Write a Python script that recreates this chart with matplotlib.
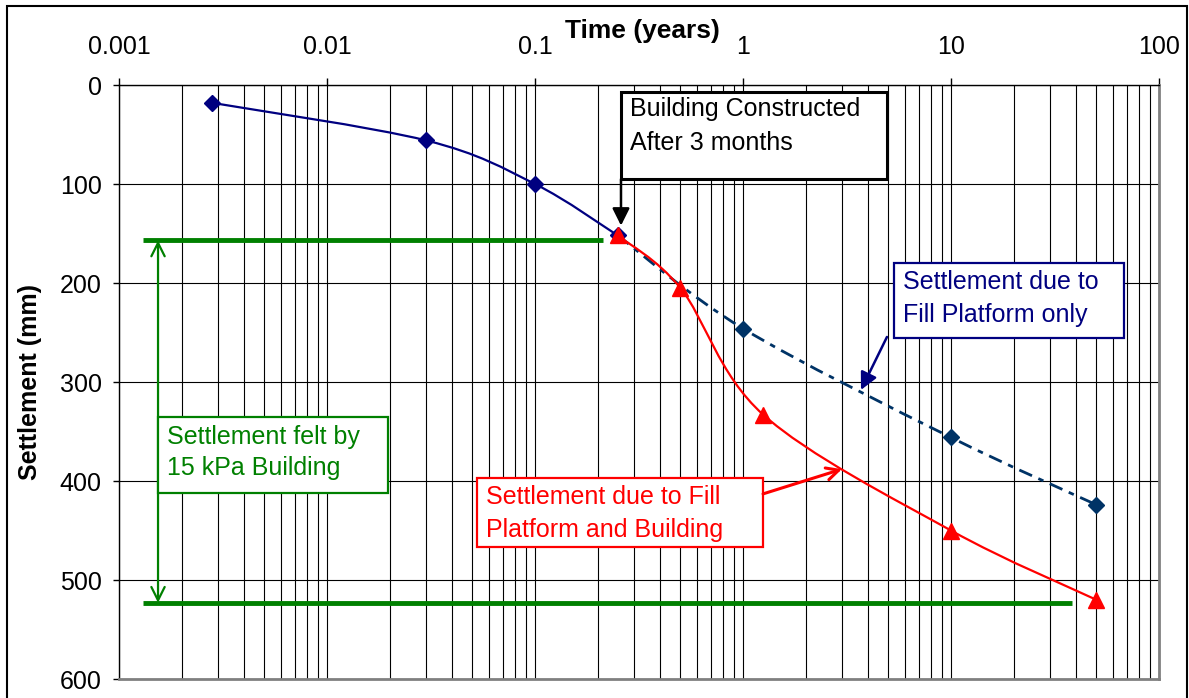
import numpy as np
import matplotlib
matplotlib.use("Agg")
import matplotlib.pyplot as plt
from matplotlib.path import Path
from matplotlib.patches import PathPatch, Rectangle
from matplotlib.ticker import LogLocator, NullFormatter

plt.rcParams["font.family"] = ["Liberation Sans", "DejaVu Sans"]

# time in years, settlement in mm
fill_time = [0.0028, 0.03, 0.1, 0.25]
fill_settle = [18, 56, 100, 152]

fill_only_time = [0.25, 1, 10, 50]
fill_only_settle = [152, 246, 356, 424]

combined_time = [0.25, 0.5, 1.25, 10, 50]
combined_settle = [152, 205, 333, 450, 520]

building_start = 157
building_end = 523

x_ticks = [0.001, 0.01, 0.1, 1, 10, 100]
x_tick_labels = ["0.001", "0.01", "0.1", "1", "10", "100"]
y_ticks = [0, 100, 200, 300, 400, 500, 600]

NAVY = "#000080"
DARK_BLUE = "#003366"
RED = "#FF0000"
GREEN = "#008000"
FS = 18


def smooth_path(xs, ys):
    # Catmull-Rom style bezier through the points, worked out in log-x space
    u = np.log10(np.asarray(xs, float)) * 208.0
    v = np.asarray(ys, float) * 0.99
    pts = np.column_stack([u, v])
    ext = np.vstack([pts[0], pts, pts[-1]])
    verts = [pts[0]]
    codes = [Path.MOVETO]
    for i in range(1, len(ext) - 2):
        p0, p1, p2, p3 = ext[i - 1], ext[i], ext[i + 1], ext[i + 2]
        c1 = p1 + (p2 - p0) / 6.0
        c2 = p2 - (p3 - p1) / 6.0
        verts += [c1, c2, p2]
        codes += [Path.CURVE4] * 3
    verts = np.array(verts)
    verts[:, 0] = 10 ** (verts[:, 0] / 208.0)
    verts[:, 1] = verts[:, 1] / 0.99
    return Path(verts, codes)


fig = plt.figure(figsize=(11.89, 6.98), dpi=100)
ax = fig.add_axes([0.1001, 0.0272, 0.8747, 0.8510])

ax.set_xscale("log")
ax.set_xlim(0.001, 100)
ax.set_ylim(600, 0)

ax.xaxis.tick_top()
ax.set_xticks(x_ticks)
ax.set_xticklabels(x_tick_labels)
ax.xaxis.set_minor_locator(LogLocator(base=10, subs=range(2, 10), numticks=20))
ax.xaxis.set_minor_formatter(NullFormatter())
ax.set_yticks(y_ticks)
ax.tick_params(axis="x", which="major", length=5, width=1, pad=14, labelsize=FS)
ax.tick_params(axis="x", which="minor", length=0)
ax.tick_params(axis="y", length=4.5, width=1, pad=8, labelsize=FS)

ax.grid(which="both", axis="x", color="black", lw=0.8)
ax.grid(which="major", axis="y", color="black", lw=0.8)
ax.set_axisbelow(True)

for side in ["top", "left"]:
    ax.spines[side].set_color("black")
    ax.spines[side].set_linewidth(1)
for side in ["right", "bottom"]:
    ax.spines[side].set_color("#808080")
    ax.spines[side].set_linewidth(2)

ax.set_xlabel("Time (years)", fontsize=19, fontweight="bold")
ax.xaxis.set_label_position("top")
ax.xaxis.set_label_coords(0.503, 1.091)
ax.xaxis.label.set_verticalalignment("center")
ax.set_ylabel("Settlement (mm)", fontsize=FS, fontweight="bold")
ax.yaxis.set_label_coords(-0.0856, 0.5)
ax.yaxis.label.set_verticalalignment("center")

# green lines marking settlement felt by the building
ax.hlines(building_start, 0.0013, 0.212, color=GREEN, lw=3.5, zorder=3)
ax.hlines(building_end, 0.0013, 38, color=GREEN, lw=3.5, zorder=3)
ax.annotate("", xy=(0.00154, building_end), xytext=(0.00154, building_start),
            arrowprops=dict(arrowstyle="<->", color=GREEN, lw=1.6,
                            mutation_scale=24, shrinkA=0, shrinkB=0), zorder=3)

# settlement curves
ax.add_patch(PathPatch(smooth_path(fill_only_time, fill_only_settle), fill=False,
                       edgecolor=DARK_BLUE, lw=2, linestyle=(0, (5, 2.5, 2, 2.5)), zorder=4))
ax.plot(fill_only_time[1:], fill_only_settle[1:], linestyle="none", marker="D",
        ms=8, color=DARK_BLUE, zorder=6)

ax.add_patch(PathPatch(smooth_path(fill_time, fill_settle), fill=False,
                       edgecolor=NAVY, lw=1.6, zorder=4))
ax.plot(fill_time, fill_settle, linestyle="none", marker="D", ms=8, color=NAVY, zorder=6)

ax.add_patch(PathPatch(smooth_path(combined_time, combined_settle), fill=False,
                       edgecolor=RED, lw=1.6, zorder=5))
ax.plot(combined_time, combined_settle, linestyle="none", marker="^", ms=11,
        color=RED, zorder=7)


def note_box(x0, x1, y0, y1, color, lw):
    ax.add_patch(Rectangle((x0, y0), x1 - x0, y1 - y0, facecolor="white",
                           edgecolor=color, lw=lw, zorder=8))


# building constructed note
note_box(0.259, 4.92, 7, 95, "black", 2.2)
ax.text(0.286, 24, "Building Constructed", fontsize=FS, va="center", zorder=9)
ax.text(0.286, 58.6, "After 3 months", fontsize=FS, va="center", zorder=9)
ax.annotate("", xy=(0.259, 142), xytext=(0.259, 95),
            arrowprops=dict(arrowstyle="-|>", color="black", lw=1.8,
                            mutation_scale=26, shrinkA=0, shrinkB=0), zorder=9)

# fill platform only note
note_box(5.32, 67.9, 180, 255.6, NAVY, 1.6)
ax.text(5.87, 199, "Settlement due to", fontsize=FS, color=NAVY, va="center", zorder=9)
ax.text(5.87, 232, "Fill Platform only", fontsize=FS, color=NAVY, va="center", zorder=9)
ax.annotate("", xy=(3.69, 308), xytext=(4.92, 254.5),
            arrowprops=dict(arrowstyle="-|>", color=NAVY, lw=1.8,
                            mutation_scale=26, shrinkA=0, shrinkB=0), zorder=9)

# fill platform and building note
note_box(0.0526, 1.248, 397, 466.7, RED, 1.6)
ax.text(0.0581, 416, "Settlement due to Fill", fontsize=FS, color=RED, va="center", zorder=9)
ax.text(0.0581, 449.5, "Platform and Building", fontsize=FS, color=RED, va="center", zorder=9)
ax.annotate("", xy=(2.99, 388), xytext=(1.248, 413),
            arrowprops=dict(arrowstyle="->", color=RED, lw=2.2,
                            mutation_scale=22, shrinkA=0, shrinkB=0), zorder=9)

# building load note
note_box(0.00154, 0.0196, 335, 412, GREEN, 1.6)
ax.text(0.0017, 355.6, "Settlement felt by", fontsize=FS, color=GREEN, va="center", zorder=9)
ax.text(0.0017, 387, "15 kPa Building", fontsize=FS, color=GREEN, va="center", zorder=9)

# chart border
fig.patches.append(Rectangle((0.0059, -0.05), 0.9924, 1.0414, transform=fig.transFigure,
                             fill=False, edgecolor="black", lw=1.5, figure=fig))

fig.savefig("out.png", dpi=100)
